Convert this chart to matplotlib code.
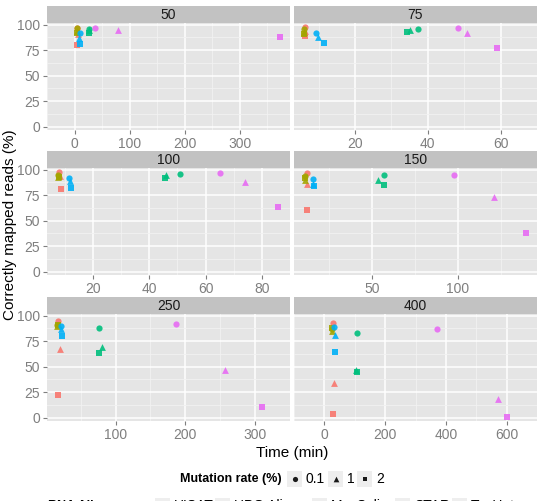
import matplotlib.pyplot as plt
import numpy as np
from matplotlib.patches import Rectangle

plt.rcParams['font.family'] = ['Liberation Sans', 'DejaVu Sans']

# facets, legend entries
read_lengths = [50, 75, 100, 150, 250, 400]
aligners = ["HISAT", "HPG Aligner", "MapSplice", "STAR", "TopHat"]
mutation_rates = ["0.1", "1", "2"]
legend_title = "RNA Aligner"

# time (min) and correctly mapped reads (%) for each read length
# order inside each list: aligner (as above) x mutation rate (0.1, 1, 2)
time_50 = [5.0, 5.5, 5.0,  4.5, 4.5, 4.5,  27, 26.5, 26,  9.5, 9.0, 9.5,  37, 79.5, 373]
acc_50 = [96.5, 90.5, 80.4,  97, 94, 92,  96, 94.5, 92,  91.8, 87, 81.4,  96.7, 95, 87.5]

time_75 = [6.2, 6.4, 6.4,  5.9, 6.0, 6.1,  37.4, 35.1, 34.3,  9.4, 9.9, 11.4,  48.2, 50.8, 59]
acc_75 = [97.7, 94, 88.5,  96, 93, 91,  96, 95, 92.8,  91.8, 87.5, 82,  96.4, 92, 76.8]

time_100 = [7.9, 8.2, 8.5,  7.6, 7.6, 7.8,  51, 46, 45.5,  11.6, 12, 12.3,  65, 74, 85.6]
acc_100 = [97.5, 93.5, 81.2,  95, 93, 92.5,  96, 95, 92,  92, 88.5, 82.2,  96.5, 88, 63.8]

time_150 = [12.2, 11.9, 12.2,  10.9, 10.9, 10.9,  57, 53.5, 57,  15.3, 15.5, 16.1,  97.7, 121.3, 139.8]
acc_150 = [97, 86, 60,  93.5, 90, 92,  94.4, 89.4, 85.3,  91, 86, 84,  95, 72.9, 37.8]

time_250 = [17.7, 19.8, 17.7,  16.4, 16.4, 16.8,  75.8, 80.2, 76.6,  21.7, 22, 23.8,  185.9, 256.8, 310]
acc_250 = [94.7, 67.6, 22.7,  90.5, 89.5, 91,  88.1, 69.5, 63.5,  89.8, 86.5, 80,  91.4, 46.7, 10.5]

time_400 = [28.6, 30.3, 27.7,  24.2, 24.2, 25,  106.5, 104, 108,  33, 34.6, 36.4,  369.7, 572, 601.7]
acc_400 = [92.4, 33.9, 3.3,  87, 85, 88,  82.5, 46.4, 45,  89, 80.9, 64.5,  86.5, 18.5, 0.7]

times = [time_50, time_75, time_100, time_150, time_250, time_400]
accs = [acc_50, acc_75, acc_100, acc_150, acc_250, acc_400]

x_ticks = [[0, 100, 200, 300], [20, 40, 60], [20, 40, 60, 80],
           [50, 100], [100, 200, 300], [0, 200, 400, 600]]
y_ticks = [0, 25, 50, 75, 100]

colors = ["#F8766D", "#A3A500", "#00BF7D", "#00B0F6", "#E76BF3"]
markers = ["o", "^", "s"]
sizes = [20, 24, 18]

W, H = 539, 501
fig = plt.figure(figsize=(W / 100, H / 100), dpi=100)

def frac(x0, y0, x1, y1):
    # pixel box (top-left origin) -> figure fraction rect
    return [x0 / W, 1 - y1 / H, (x1 - x0) / W, (y1 - y0) / H]

col_x = [(47, 290), (294, 537)]
row_y = [(23, 130), (168, 275), (314, 421)]
strip_h = 17

all_acc = np.concatenate([np.array(a) for a in accs])
ypad = 0.04 * (all_acc.max() - all_acc.min())
ylim = (all_acc.min() - ypad, all_acc.max() + ypad)

for k, rl in enumerate(read_lengths):
    r, c = divmod(k, 2)
    x0, x1 = col_x[c]
    y0, y1 = row_y[r]
    ax = fig.add_axes(frac(x0, y0, x1, y1))
    ax.set_facecolor("#E5E5E5")
    t = np.array(times[k])
    a = np.array(accs[k])
    for i in range(len(aligners)):
        for j in range(len(mutation_rates)):
            n = i * 3 + j
            ax.scatter(t[n], a[n], marker=markers[j], s=sizes[j], color=colors[i],
                       alpha=0.9, linewidths=0, zorder=3)
    xpad = 0.05 * (t.max() - t.min())
    ax.set_xlim(t.min() - xpad, t.max() + xpad)
    ax.set_ylim(ylim)
    xt = x_ticks[k]
    step = xt[1] - xt[0]
    ax.set_xticks(xt)
    ax.set_xticks([v + step / 2 for v in [xt[0] - step] + xt], minor=True)
    ax.set_yticks(y_ticks)
    ax.set_yticks([v + 12.5 for v in y_ticks[:-1]], minor=True)
    ax.grid(which="major", color="white", linewidth=1.1)
    ax.grid(which="minor", color="#F2F2F2", linewidth=0.6)
    ax.set_axisbelow(True)
    for s in ax.spines.values():
        s.set_visible(False)
    ax.tick_params(which="major", length=3, width=0.8, color="#7F7F7F",
                   labelcolor="#7F7F7F", labelsize=10, pad=2)
    ax.tick_params(which="minor", length=0)
    if c == 1:
        ax.tick_params(axis="y", which="both", left=False, labelleft=False)

    sax = fig.add_axes(frac(x0, y0 - strip_h, x1, y0))
    sax.set_facecolor("#C2C2C2")
    sax.set_xticks([])
    sax.set_yticks([])
    for s in sax.spines.values():
        s.set_visible(False)
    sax.text(0.5, 0.45, str(rl), ha="center", va="center", fontsize=10,
             color="#1A1A1A", transform=sax.transAxes)

fig.text(10 / W, 1 - 225 / H, "Correctly mapped reads (%)", rotation=90,
         ha="center", va="center", fontsize=11)
fig.text(292 / W, 1 - 453 / H, "Time (min)", ha="center", va="center", fontsize=11)

# legends drawn on an overlay in pixel units
ov = fig.add_axes([0, 0, 1, 1], facecolor="none")
ov.set_xlim(0, W)
ov.set_ylim(H, 0)
ov.axis("off")

ly = 479
ov.text(180, ly, "Mutation rate (%)", ha="left", va="center", fontsize=9, fontweight="bold")
kx = [287, 328, 357]
for j, lab in enumerate(mutation_rates):
    ov.add_patch(Rectangle((kx[j], ly - 8), 15, 16, facecolor="#EEEEEE", edgecolor="none"))
    ov.scatter(kx[j] + 7.5, ly, marker=markers[j], s=sizes[j] * 0.7, color="#1A1A1A",
               linewidths=0)
    ov.text(kx[j] + 19, ly, lab, ha="left", va="center", fontsize=10)

# second legend row sits at the bottom edge and is cut off, as in the source
ly2 = 506
ov.text(48, ly2, legend_title, ha="left", va="center", fontsize=9, fontweight="bold",
        clip_on=False)
kx2 = [155, 215, 312, 395, 452]
for i, lab in enumerate(aligners):
    ov.add_patch(Rectangle((kx2[i], ly2 - 8), 15, 16, facecolor="#EEEEEE", edgecolor="none"))
    ov.scatter(kx2[i] + 7.5, ly2, marker="o", s=14, color=colors[i], linewidths=0)
    ov.text(kx2[i] + 19, ly2, lab, ha="left", va="center", fontsize=10)

fig.savefig("out.png", dpi=100)
